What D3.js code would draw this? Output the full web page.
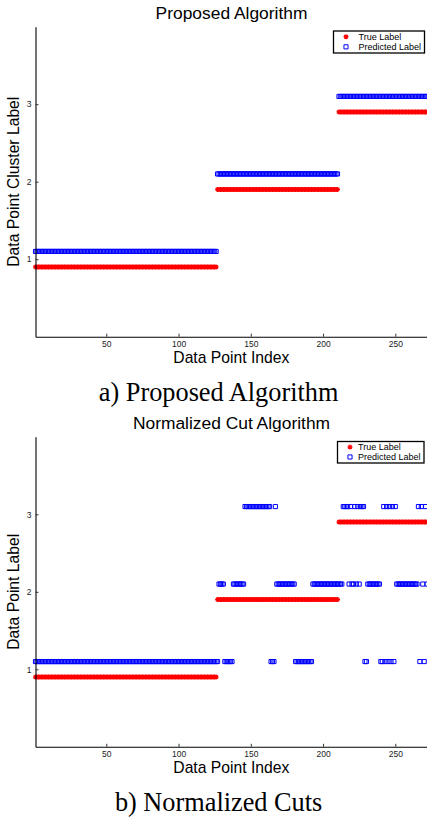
<!DOCTYPE html>
<html>
<head>
<meta charset="utf-8">
<script src="https://cdn.jsdelivr.net/npm/d3@7"></script>
<style>
html, body { margin: 0; padding: 0; background: #fff; }
svg { display: block; }
</style>
</head>
<body>
<svg id="chart" width="427" height="818"></svg>
<script>
// ---- Data (runs of [firstIndex, lastIndex, label]) ----
const trueLabelRuns = [[1, 126, 1], [127, 210, 2], [211, 272, 3]];
const proposedPredRuns = [[1, 126, 1], [127, 210, 2], [211, 272, 3]];
const ncutPredRuns = [
  [1, 127, 1], [128, 131, 2], [132, 137, 1], [138, 145, 2], [146, 163, 3],
  [164, 166, 1], [167, 167, 3], [168, 180, 2], [181, 192, 1], [193, 213, 2],
  [214, 217, 3], [218, 218, 2], [219, 219, 3], [220, 221, 2], [222, 222, 3],
  [223, 223, 2], [224, 224, 3], [225, 225, 2], [226, 228, 3], [229, 230, 1],
  [231, 239, 2], [240, 241, 1], [242, 242, 3], [243, 243, 1], [244, 244, 3],
  [245, 245, 1], [246, 246, 3], [247, 247, 1], [248, 248, 3], [249, 249, 1],
  [250, 250, 3], [251, 265, 2], [266, 266, 3], [267, 267, 1], [268, 268, 3],
  [269, 269, 2], [270, 270, 1], [271, 271, 3], [272, 272, 2]
];
const xTicks = [50, 100, 150, 200, 250];
const yTicks = [1, 2, 3];
const xDomain = [1, 272];
const yDomain = [0, 4];
const legendLabels = ["True Label", "Predicted Label"];
const panels = [
  { title: "Proposed Algorithm", ylabel: "Data Point Cluster Label", caption: "a) Proposed Algorithm",
    truth: trueLabelRuns, pred: proposedPredRuns },
  { title: "Normalized Cut Algorithm", ylabel: "Data Point Label", caption: "b) Normalized Cuts",
    truth: trueLabelRuns, pred: ncutPredRuns }
];
const xLabel = "Data Point Index";

// ---- helpers ----
function expandRuns(runs) {
  const out = [];
  runs.forEach(([a, b, v]) => { for (let i = a; i <= b; i++) out.push({ i, v }); });
  return out;
}
const asteriskType = {
  draw(ctx, size) {
    const r = Math.sqrt(size), d = r * Math.SQRT1_2;
    ctx.moveTo(-r, 0); ctx.lineTo(r, 0);
    ctx.moveTo(0, -r); ctx.lineTo(0, r);
    ctx.moveTo(-d, -d); ctx.lineTo(d, d);
    ctx.moveTo(-d, d); ctx.lineTo(d, -d);
  }
};
const starPath = d3.symbol().type(asteriskType).size(6.2)();
const squarePath = d3.symbol().type(d3.symbolSquare).size(17)();

const svg = d3.select("#chart");
const SANS = "'Liberation Sans', Arial, Helvetica, sans-serif";
const SERIF = "'Liberation Serif', 'Times New Roman', serif";

const layout = [
  { top: 26.7, bottom: 336.7, legend: [333.5, 31, 91, 22] },
  { top: 436.8, bottom: 746.8, legend: [337.5, 441.5, 86.5, 21.5] }
];

panels.forEach((p, k) => {
  const L = layout[k];
  const x = d3.scaleLinear().domain(xDomain).range([35.5, 427.1]);
  const y = d3.scaleLinear().domain(yDomain).range([L.bottom, L.top]);
  const g = svg.append("g");

  // title
  g.append("text").attr("x", 231.5).attr("y", L.top - 8.2)
    .attr("text-anchor", "middle").attr("font-family", SANS).attr("font-size", 17.4)
    .attr("fill", "#000").text(p.title);

  // points: true labels (offset -0.1), predicted (offset +0.1)
  g.append("g").selectAll("path").data(expandRuns(p.truth)).join("path")
    .attr("d", starPath)
    .attr("transform", d => `translate(${x(d.i)},${y(d.v - 0.1)})`)
    .attr("fill", "none").attr("stroke", "#ff0000").attr("stroke-width", 1.2);
  g.append("g").selectAll("path").data(expandRuns(p.pred)).join("path")
    .attr("d", squarePath)
    .attr("transform", d => `translate(${x(d.i)},${y(d.v + 0.1)})`)
    .attr("fill", "none").attr("stroke", "#0000ff").attr("stroke-width", 1);

  // axes
  const ax = g.append("g").attr("transform", `translate(0,${L.bottom})`)
    .call(d3.axisBottom(x).tickValues(xTicks).tickFormat(d3.format("d"))
      .tickSizeInner(-3).tickSizeOuter(0).tickPadding(4.6));
  const ay = g.append("g").attr("transform", `translate(35.5,0)`)
    .call(d3.axisLeft(y).tickValues(yTicks).tickFormat(d3.format("d"))
      .tickSizeInner(-3).tickSizeOuter(0).tickPadding(4));
  [ax, ay].forEach(a => {
    a.attr("font-family", SANS).attr("font-size", 8.5);
    a.select(".domain").attr("stroke", "#000").attr("stroke-width", 1.1);
    a.selectAll(".tick line").attr("stroke", "#333");
    a.selectAll(".tick text").attr("fill", "#222");
  });

  // axis labels
  g.append("text").attr("x", 231.3).attr("y", L.bottom + 26.6)
    .attr("text-anchor", "middle").attr("font-family", SANS).attr("font-size", 15.7)
    .attr("fill", "#000").text(xLabel);
  g.append("text")
    .attr("transform", `translate(18.6,${(L.top + L.bottom) / 2}) rotate(-90)`)
    .attr("text-anchor", "middle").attr("font-family", SANS).attr("font-size", 15.7)
    .attr("fill", "#000").text(p.ylabel);

  // caption
  g.append("text").attr("x", 218.6).attr("y", L.bottom + 64)
    .attr("text-anchor", "middle").attr("font-family", SERIF).attr("font-size", 26.3)
    .attr("fill", "#000").text(p.caption);

  // legend
  const [lx, ly, lw, lh] = L.legend;
  const lg = g.append("g");
  lg.append("rect").attr("x", lx).attr("y", ly).attr("width", lw).attr("height", lh)
    .attr("fill", "#fff").attr("stroke", "#000").attr("stroke-width", 1.3);
  const rowY = [ly + lh * 0.26, ly + lh * 0.72];
  lg.append("path").attr("d", starPath).attr("transform", `translate(${lx + 12.5},${rowY[0]})`)
    .attr("fill", "none").attr("stroke", "#ff0000").attr("stroke-width", 1.2);
  lg.append("path").attr("d", squarePath).attr("transform", `translate(${lx + 12.5},${rowY[1]})`)
    .attr("fill", "none").attr("stroke", "#0000ff").attr("stroke-width", 1);
  legendLabels.forEach((t, j) => {
    lg.append("text").attr("x", lx + lw - 66).attr("y", rowY[j])
      .attr("dy", "0.35em").attr("font-family", SANS).attr("font-size", 9)
      .attr("fill", "#000").text(t);
  });
});
</script>
</body>
</html>
